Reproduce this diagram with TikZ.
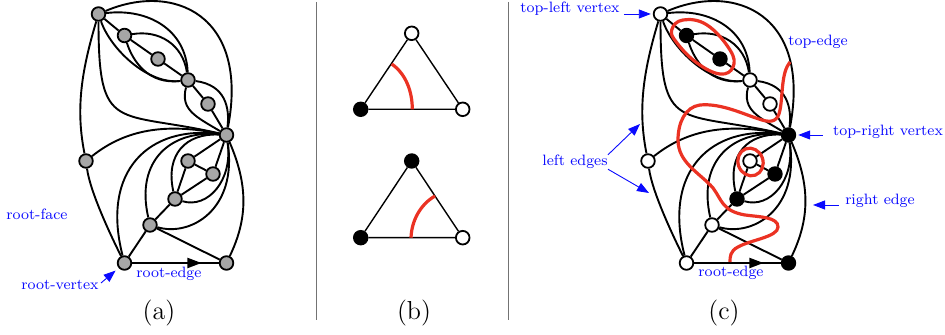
\documentclass[tikz,border=0pt]{standalone}
\usetikzlibrary{arrows.meta,decorations.markings}
\definecolor{lblue}{RGB}{10,10,255}
\definecolor{rcol}{RGB}{235,50,35}
\tikzset{
  vtx/.style={circle,draw=black,line width=0.9pt,inner sep=0pt,minimum size=6.8pt},
  gv/.style={vtx,fill=black!35},
  wv/.style={vtx,fill=white},
  bv/.style={vtx,fill=black},
  gedge/.style={line width=0.95pt,black},
  tri/.style={line width=0.7pt,black},
  redl/.style={line width=1.6pt,rcol},
  lab/.style={text=lblue,font=\fontsize{7.5}{10}\selectfont,inner sep=0pt},
  captxt/.style={font=\fontsize{13}{15}\selectfont,inner sep=0pt},
  barr/.style={lblue,line width=0.45pt,-{Triangle[length=6pt,width=4.5pt]}},
  sepline/.style={black!55,line width=0.5pt},
  rootedge/.style={gedge,postaction={decorate},decoration={markings,mark=at position 0.8 with {\arrow{Triangle[length=7pt,width=5pt]}}}}
}
\newcommand{\mapedges}[1]{
  \draw[gedge] (#1A)--(#1B) (#1B)--(#1C) (#1C)--(#1D) (#1D)--(#1E) (#1E)--(#1F);
  \draw[gedge] (#1A) .. controls +(75,32) and +(23,120) .. (#1F);
  \draw[gedge] (#1A) .. controls +(50,6) and +(-2,50) .. (#1D);
  \draw[gedge] (#1A) .. controls +(12,-35) and +(-40,-5) .. (#1D);
  \draw[gedge] (#1B) .. controls +(35,6) and +(-5,35) .. (#1D);
  \draw[gedge] (#1B) .. controls +(8,-25) and +(-40,-5) .. (#1D);
  \draw[gedge] (#1D) .. controls +(-8,-30) and +(-30,18) .. (#1F);
  \draw[gedge] (#1D) .. controls +(37,-5) and +(3.5,28) .. (#1F);
  \draw[gedge] (#1A) .. controls +(0,-121) and +(-110,25) .. (#1F);
  \draw[gedge] (#1A) .. controls +(-18,-60) and +(-10,50) .. (#1G);
  \draw[gedge] (#1G) .. controls +(40,32) and +(-60,12) .. (#1F);
  \draw[gedge] (#1G) .. controls +(4,-30) and +(-15,30) .. (#1L);
  \draw[gedge] (#1L) .. controls +(-24,93) and +(-76.5,10) .. (#1F);
  \draw[gedge] (#1K) .. controls +(-15,65) and +(-55,5) .. (#1F);
  \draw[gedge] (#1J) .. controls +(-10,45) and +(-40,2) .. (#1F);
  \draw[gedge] (#1K) .. controls +(40,-12) and +(11.5,-75) .. (#1F);
  \draw[gedge] (#1J) .. controls +(33,-10) and +(6.5,-45) .. (#1F);
  \draw[gedge] (#1M) .. controls +(21.5,45) and +(21.5,-50) .. (#1F);
  \draw[gedge] (#1H)--(#1F) (#1I)--(#1F) (#1H)--(#1I) (#1H)--(#1J) (#1I)--(#1J) (#1J)--(#1K) (#1K)--(#1L) (#1K)--(#1M);
  \draw[rootedge] (#1L)--(#1M);
}
\begin{document}
\begin{tikzpicture}[x=0.5pt,y=0.5pt]
\useasboundingbox (0,0) rectangle (945,335);
% (a) vertices
\foreach \n/\x/\y in {A/98.5/321,B/124.5/299.5,C/158/276,D/188/255,E/208/231,F/226.5/200,G/86/174,H/188/174,I/213/161,J/175/136,K/150/110,L/124.5/72,M/226.5/72}
  \node[gv] (a\n) at (\x,\y) {};
\mapedges{a}
% (c) vertices
\foreach \n/\x/\y/\s in {A/660.5/321/wv,B/686.5/299.5/bv,C/720/276/bv,D/750/255/wv,E/770/231/wv,F/788.5/200/bv,G/648/174/wv,H/750/174/wv,I/775/161/bv,J/737/136/bv,K/712/110/wv,L/686.5/72/wv,M/788.5/72/bv}
  \node[\s] (c\n) at (\x,\y) {};
\mapedges{c}
\draw[redl] plot[smooth cycle,tension=0.7] coordinates {(671.7,305) (683,315) (707,310) (730,285) (733,268) (720,261) (697,272) (677,292)};
\draw[redl] (790,273) .. controls (781,262) and (783,240) .. (780,225) .. controls (778,214) and (772,212) .. (762,215) .. controls (745,220) and (722,232) .. (700,230) .. controls (685,228) and (678,212) .. (678,195) .. controls (678,172) and (700,162) .. (713,147) .. controls (722,135) and (722,124) .. (745,120) .. controls (760,118) and (778,118) .. (778,108) .. controls (778,98) and (750,95) .. (738,88) .. controls (730,84) and (730,78) .. (730,73);
\draw[redl,rotate around={20:(750.5,173)}] (750.5,173) ellipse [x radius=12.5,y radius=14];
% (b)
\node[wv] (t1) at (411.7,301.7) {};
\node[bv] (l1) at (360.7,225.7) {};
\node[wv] (r1) at (462.7,225.7) {};
\node[bv] (t2) at (411.7,174) {};
\node[bv] (l2) at (360.7,97.3) {};
\node[wv] (r2) at (462.7,97.3) {};
\draw[tri] (t1)--(l1) (l1)--(r1) (r1)--(t1) (t2)--(l2) (l2)--(r2) (r2)--(t2);
\coordinate (ra) at (391.7,271);
\coordinate (rb) at (412.3,225.7);
\coordinate (rc) at (435,139);
\coordinate (rd) at (411,97.3);
\draw[redl] (ra) to[out=-35,in=90,looseness=0.9] (rb);
\draw[redl] (rc) to[out=210,in=88,looseness=0.9] (rd);
% separators
\coordinate (s1a) at (316,333); \coordinate (s1b) at (316,15);
\coordinate (s2a) at (508,333); \coordinate (s2b) at (508,15);
\draw[sepline] (s1a)--(s1b) (s2a)--(s2b);
% labels (a)
\node[lab] (rf) at (37,121) {root-face};
\node[lab] (rv) at (60,50) {root-vertex};
\node[lab] (re) at (169,61) {root-edge};
\coordinate (rvs) at (101,52);
\draw[barr,shorten >=2pt] (rvs)--(aL);
% labels (c)
\node[lab] (tlv) at (570,326) {top-left vertex};
\node[lab] (te) at (818,293) {top-edge};
\node[lab] (trv) at (888,203) {top-right vertex};
\node[lab] (rgt) at (880,134) {right edge};
\node[lab] (le) at (575,173) {left edges};
\node[lab] (re2) at (731,62) {root-edge};
\draw[barr,shorten >=1pt,shorten <=2pt] (tlv.east |- cA)--(cA);
\draw[barr,shorten >=1pt,shorten <=5pt] (trv.west |- cF)--(cF);
\coordinate (ra1) at (813,130);
\coordinate (le1) at (640,211);
\coordinate (le2) at (649,142);
\draw[barr,shorten <=3pt] (rgt.west |- ra1)--(ra1);
\draw[barr] (le.north east)--(le1);
\draw[barr] (le.south east)--(le2);
% captions
\node[captxt] (ca) at (159,22) {(a)};
\node[captxt] (cb) at (414,22) {(b)};
\node[captxt] (cc) at (724,22) {(c)};
\end{tikzpicture}
\end{document}
